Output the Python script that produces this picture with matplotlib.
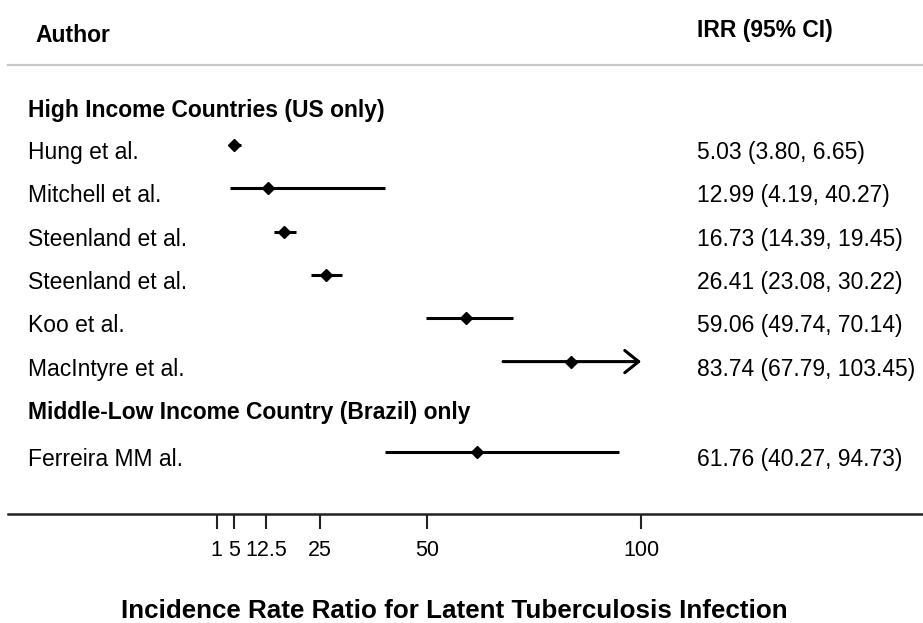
import numpy as np
import matplotlib.pyplot as plt

plt.rcParams['font.family'] = ['Liberation Sans', 'DejaVu Sans']

# data
authors = ['Hung et al.', 'Mitchell et al.', 'Steenland et al.', 'Steenland et al.',
           'Koo et al.', 'MacIntyre et al.', 'Ferreira MM al.']
irr = np.array([5.03, 12.99, 16.73, 26.41, 59.06, 83.74, 61.76])
lower = np.array([3.80, 4.19, 14.39, 23.08, 49.74, 67.79, 40.27])
upper = np.array([6.65, 40.27, 19.45, 30.22, 70.14, 103.45, 94.73])
groups = ['High Income Countries (US only)', 'Middle-Low Income Country (Brazil) only']
ticks = [1, 5, 12.5, 25, 50, 100]
tick_labels = ['1', '5', '12.5', '25', '50', '100']
xmax = 100

# layout (pixel rows, y grows downward)
W, H = 923, 623
row_y = [145, 188.3, 231.7, 275, 318.3, 361.6, 452]
group_y = [110, 413]
px0, ppu = 212.4, 4.287  # pixel of value 0, pixels per unit

fig = plt.figure(figsize=(W / 100, H / 100), dpi=100)
ax = fig.add_axes([0, 0, 1, 1])
ax.set_xlim(-px0 / ppu, (W - px0) / ppu)
ax.set_ylim(H, 0)

fs = 16.5
def px_text(x, y, s, **kw):
    ax.text(x / W, 1 - y / H, s, transform=ax.transAxes, va='center', **kw)

# headers
px_text(35, 35, 'Author', fontsize=fs, fontweight='bold')
px_text(697, 30, 'IRR (95% CI)', fontsize=fs, fontweight='bold')
ax.axhline(64.5, color='#c8c8c8', lw=1.6, xmin=8 / W, xmax=1)

for g, gy in zip(groups, group_y):
    px_text(28, gy, g, fontsize=fs, fontweight='bold')

for i, (a, m, lo, hi) in enumerate(zip(authors, irr, lower, upper)):
    y = row_y[i]
    px_text(28, y + 7.5, a, fontsize=fs)
    px_text(697, y + 7.5, f'{m:.2f} ({lo:.2f}, {hi:.2f})', fontsize=fs)
    if hi > xmax:
        ax.annotate('', xy=(xmax, y), xytext=(lo, y),
                    arrowprops=dict(arrowstyle='->,head_length=0.5,head_width=0.4',
                                    lw=2.2, color='black', mutation_scale=20,
                                    shrinkA=0, shrinkB=0))
    else:
        ax.plot([lo, hi], [y, y], color='black', lw=2.2, solid_capstyle='butt')
    ax.plot(m, y, marker='D', color='black', markersize=6)

# x axis
for s in ['top', 'left', 'right']:
    ax.spines[s].set_visible(False)
ax.spines['bottom'].set_position(('data', 514))
ax.spines['bottom'].set_linewidth(1.8)
ax.spines['bottom'].set_color('#222222')
ax.spines['bottom'].set_bounds((8 - px0) / ppu, (W - px0) / ppu)
ax.set_xticks(ticks)
ax.set_xticklabels(tick_labels, fontsize=15.5)
ax.tick_params(axis='x', direction='out', length=11, width=1.5, pad=8, color='#222222')
ax.set_yticks([])

px_text(454, 611, 'Incidence Rate Ratio for Latent Tuberculosis Infection',
        fontsize=18.7, fontweight='bold', ha='center')

fig.savefig('out.png', dpi=100)
